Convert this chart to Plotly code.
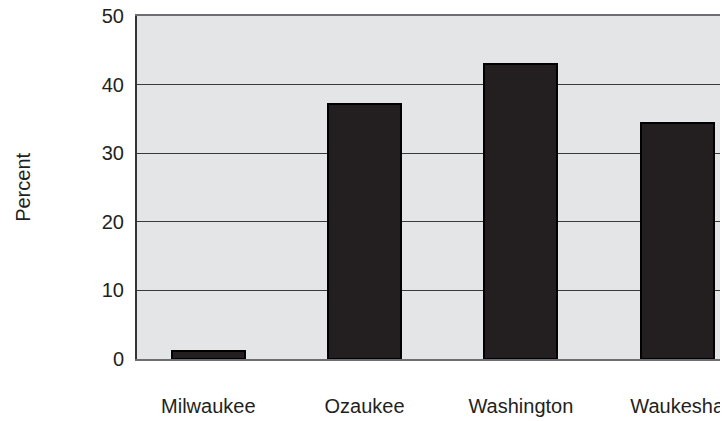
import plotly.graph_objects as go

counties = ["Milwaukee", "Ozaukee", "Washington", "Waukesha"]
percent = [1.2, 37.2, 43.0, 34.4]
y_ticks = [0, 10, 20, 30, 40, 50]

COLORS = {
    "plot_bg": "#e4e5e7",
    "bar": "#231f20",
    "grid": "#3a3a3a",
    "base": "#6d6e71",
    "text": "#231f20",
}

positions = list(range(len(counties)))

fig = go.Figure()
fig.add_trace(
    go.Bar(
        x=positions,
        y=percent,
        width=0.468,
        marker=dict(color=COLORS["bar"], line=dict(color="#000000", width=2)),
        showlegend=False,
    )
)

# y title placed by hand, far left of the tick labels
fig.add_annotation(
    text="Percent",
    xref="paper", yref="paper",
    x=-0.194, y=0.5,
    xanchor="center",
    textangle=-90,
    showarrow=False,
    font=dict(size=20, color=COLORS["text"]),
)

fig.update_layout(
    width=720,
    height=413,
    paper_bgcolor="white",
    plot_bgcolor=COLORS["plot_bg"],
    font=dict(family="Liberation Sans, Arial, sans-serif", color=COLORS["text"]),
    margin=dict(l=129, r=0, t=8, b=62),
    bargap=0,
    xaxis=dict(
        range=[-0.456, 3.325],
        tickvals=positions,
        ticktext=counties,
        tickfont=dict(size=20),
        ticks="outside",
        ticklen=28,
        tickcolor="rgba(0,0,0,0)",
        ticklabeloverflow="allow",
        automargin=False,
        showgrid=False,
        zeroline=False,
        showline=True,
        linecolor=COLORS["base"],
        linewidth=2,
        mirror=True,
    ),
    yaxis=dict(
        range=[0, 50],
        tickvals=y_ticks,
        tickfont=dict(size=20),
        ticks="outside",
        ticklen=7,
        tickcolor="rgba(0,0,0,0)",
        ticklabeloverflow="allow",
        automargin=False,
        showgrid=True,
        gridcolor=COLORS["grid"],
        gridwidth=1,
        zeroline=False,
        showline=True,
        linecolor="#333333",
        linewidth=2,
    ),
)

fig.write_html("out.html")
